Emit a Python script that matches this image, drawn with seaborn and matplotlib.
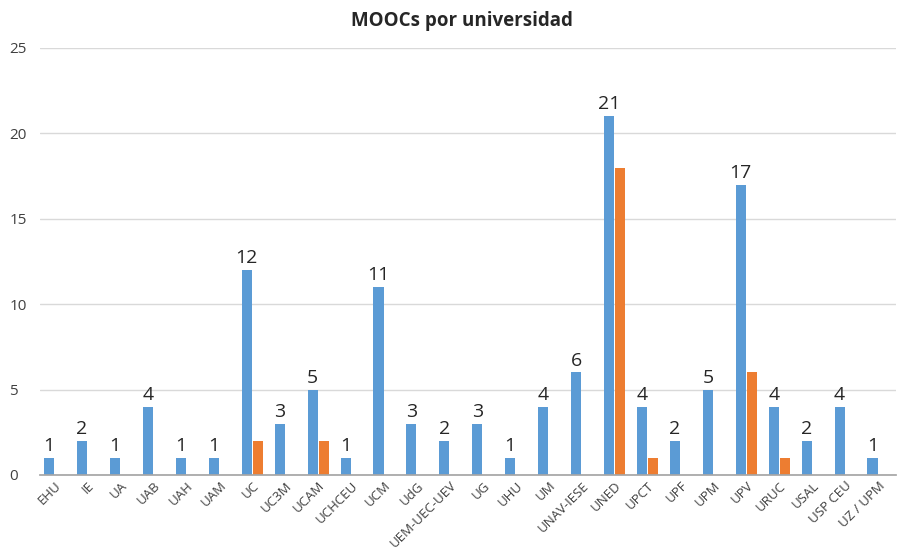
import matplotlib
matplotlib.use("Agg")
import matplotlib.pyplot as plt
import seaborn as sns
import pandas as pd

universidades = ["EHU", "IE", "UA", "UAB", "UAH", "UAM", "UC", "UC3M", "UCAM", "UCHCEU",
                 "UCM", "UdG", "UEM-UEC-UEV", "UG", "UHU", "UM", "UNAV-IESE", "UNED",
                 "UPCT", "UPF", "UPM", "UPV", "URUC", "USAL", "USP CEU", "UZ / UPM"]
serie_a = [1, 2, 1, 4, 1, 1, 12, 3, 5, 1, 11, 3, 2, 3, 1, 4, 6, 21, 4, 2, 5, 17, 4, 2, 4, 1]
serie_b = [0, 0, 0, 0, 0, 0, 2, 0, 2, 0, 0, 0, 0, 0, 0, 0, 0, 18, 1, 0, 0, 6, 1, 0, 0, 0]
series = ["A", "B"]

df = pd.DataFrame({
    "uni": universidades * 2,
    "valor": serie_a + serie_b,
    "serie": [series[0]] * len(universidades) + [series[1]] * len(universidades),
})

sns.set_theme(style="white")
plt.rcParams["font.family"] = ["Open Sans", "DejaVu Sans"]

fig = plt.figure(figsize=(8.98, 5.51), dpi=100)
ax = fig.add_axes([0.0445, 0.138, 0.9535, 0.775])

sns.barplot(data=df, x="uni", y="valor", hue="serie", order=universidades,
            palette=["#5B9BD5", "#ED7D31"], saturation=1, width=0.68, gap=0.1,
            legend=False, linewidth=0, ax=ax)

ax.bar_label(ax.containers[0], fontsize=14, color="#262626", padding=2)

ax.set_ylim(0, 25)
ax.set_xlim(-0.45, len(universidades) - 0.45)
ax.set_yticks([0, 5, 10, 15, 20, 25])
ax.yaxis.grid(True, color="#D9D9D9", linewidth=1)
ax.set_axisbelow(True)
for s in ["top", "right", "left"]:
    ax.spines[s].set_visible(False)
ax.spines["bottom"].set_color("#A6A6A6")
ax.tick_params(axis="y", length=0, labelsize=11, labelcolor="#404040", pad=22)
for lbl in ax.get_yticklabels():
    lbl.set_horizontalalignment("left")
ax.tick_params(axis="x", length=0, labelsize=9.5, labelcolor="#404040", pad=3)
plt.setp(ax.get_xticklabels(), rotation=45, ha="right", rotation_mode="anchor")
ax.set_xlabel("")
ax.set_ylabel("")

fig.text(0.514, 0.962, "MOOCs por universidad", ha="center", va="center",
         fontsize=13.5, fontweight="bold", color="#262626")

fig.savefig("out.png", dpi=100)
